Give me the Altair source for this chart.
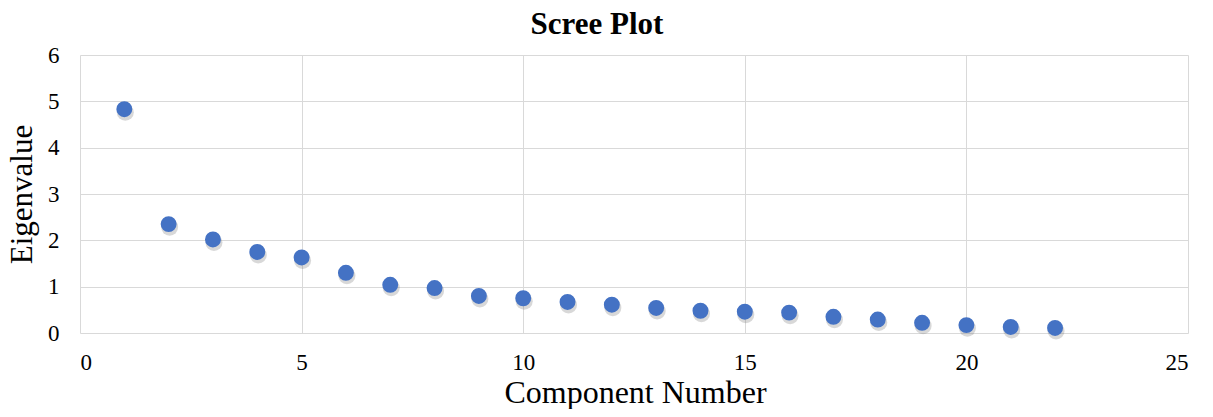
import altair as alt
import pandas as pd

components = list(range(1, 23))
eigenvalues = [4.83, 2.35, 2.02, 1.75, 1.63, 1.30, 1.04, 0.97, 0.80, 0.75,
               0.67, 0.61, 0.54, 0.48, 0.46, 0.44, 0.35, 0.29, 0.22, 0.17,
               0.13, 0.11]

df = pd.DataFrame({"Component": components, "Eigenvalue": eigenvalues})

FONT = "Liberation Serif"

x = alt.X("Component:Q",
          scale=alt.Scale(domain=[0, 25], nice=False),
          axis=alt.Axis(values=[0, 5, 10, 15, 20, 25], title="Component Number",
                        labelFontSize=23, titleFontSize=32, labelFont=FONT, titleFont=FONT,
                        labelColor="black", titleColor="black", titleFontWeight="normal",
                        ticks=False, domain=False, grid=True, gridColor="#d9d9d9",
                        labelPadding=36, labelBaseline="alphabetic",
                        titleX=555, titleY=69, titleBaseline="alphabetic", titleAlign="center"))
y = alt.Y("Eigenvalue:Q",
          scale=alt.Scale(domain=[0, 6], nice=False),
          axis=alt.Axis(values=[0, 1, 2, 3, 4, 5, 6], title="Eigenvalue",
                        labelFontSize=23, titleFontSize=31, labelFont=FONT, titleFont=FONT,
                        labelColor="black", titleColor="black", titleFontWeight="normal",
                        ticks=False, domain=False, grid=True, gridColor="#d9d9d9",
                        labelPadding=21,
                        titleAngle=-90, titleX=-49, titleY=139,
                        titleBaseline="alphabetic", titleAlign="center"))

shadow = alt.Chart(df).mark_circle(size=290, color="#7f7f7f", opacity=0.3, yOffset=3, xOffset=1).encode(x=x, y=y)
points = alt.Chart(df).mark_circle(size=254, color="#4472C4", opacity=1).encode(x=x, y=y)

chart = alt.layer(shadow, points).properties(
    width=1108, height=278,
    title=alt.TitleParams("Scree Plot", font=FONT, fontSize=31, fontWeight="bold",
                          color="black", anchor="middle", frame="bounds", offset=3),
    autosize=alt.AutoSizeParams(type="none"),
    padding={"left": 72, "top": 47, "right": 17, "bottom": 76},
).configure_view(stroke=None)

chart.save("out.html", embed_options={"renderer": "svg", "actions": False})
